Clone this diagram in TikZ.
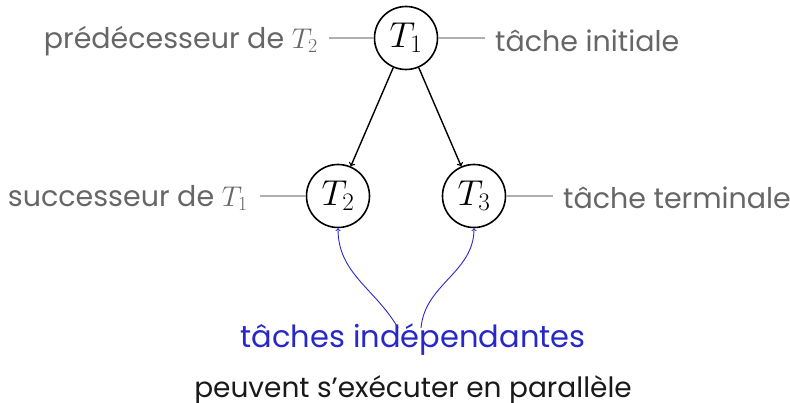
\RequirePackage{fix-cm}
\documentclass[tikz,border=0pt]{standalone}
\usepackage{fontspec}
\setmainfont{Poppins}
\definecolor{bleu}{RGB}{40,40,200}
\definecolor{gristexte}{RGB}{102,102,102}
\definecolor{grisligne}{RGB}{175,175,175}
\begin{document}
\begin{tikzpicture}[>=to, x=1pt, y=-1pt,
    tache/.style={draw, circle, line width=1.6pt, minimum size=63pt, inner sep=0pt, font=\fontsize{36}{40}\selectfont},
    etiq/.style={text=gristexte, inner sep=0pt, font=\fontsize{28.5}{32}\selectfont},
    lien/.style={draw=grisligne, line width=1.2pt},
    fleche/.style={->, line width=1.4pt},
    renvoi/.style={->, draw=bleu, line width=0.9pt}]
\useasboundingbox (0,0) rectangle (790,403);
% les trois taches
\node[tache] (t1) at (406,38) {$T_1$};
\node[tache] (t2) at (338,196) {$T_2$};
\node[tache] (t3) at (474,196) {$T_3$};
\draw[fleche] (t1) -- (t2);
\draw[fleche] (t1) -- (t3);
% etiquettes
\node[etiq, anchor=east] (pred) at (318,41) {prédécesseur de $T_2$};
\node[etiq, anchor=west] (init) at (495,41) {tâche initiale};
\node[etiq, anchor=east] (succ) at (248,198) {successeur de $T_1$};
\node[etiq, anchor=west] (term) at (563,198) {tâche terminale};
\draw[lien] ([xshift=11pt]pred.east |- t1) -- (t1.west);
\draw[lien] (t1.east) -- ([xshift=-10pt]init.west |- t1);
\draw[lien] ([xshift=12pt]succ.east |- t2) -- (t2.west);
\draw[lien] (t3.east) -- ([xshift=-10pt]term.west |- t3);
% independance
\node[text=bleu, anchor=base, inner sep=0pt, font=\fontsize{30.5}{34}\selectfont] (indep) at (413,348) {tâches indépendantes};
\node[anchor=base, inner sep=0pt, text=black!90, font=\fontsize{28}{32}\selectfont] (para) at (413,397) {peuvent s’exécuter en parallèle};
\draw[renvoi] ([xshift=-15pt,yshift=-4pt]indep.north) to[out=120, in=-90] (t2.south);
\draw[renvoi] ([xshift=8pt,yshift=-4pt]indep.north) to[out=85, in=-90] (t3.south);
\end{tikzpicture}
\end{document}
